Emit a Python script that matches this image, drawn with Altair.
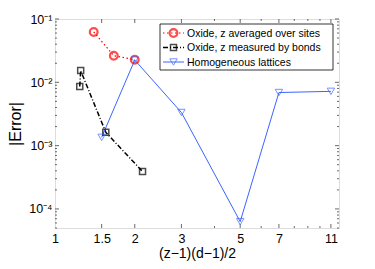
import altair as alt
import pandas as pd

# ---- data ----
red_x = [1.40, 1.667, 2.0]
red_y = [0.0625, 0.0263, 0.0227]

black_x = [1.24, 1.25, 1.555, 2.14]
black_y = [0.0086, 0.0153, 0.00162, 0.00039]

blue_x = [1.5, 2.0, 3.0, 5.0, 7.0, 11.0]
blue_y = [0.00135, 0.0225, 0.00334, 0.000063, 0.0069, 0.0072]

series_names = ["Oxide, z averaged over sites",
                "Oxide, z measured by bonds",
                "Homogeneous lattices"]

x_ticks = [1, 1.5, 2, 3, 5, 7, 11]
x_minor = [4, 6, 8, 9, 10]
y_ticks = [1e-4, 1e-3, 1e-2, 1e-1]
y_minor = [m * 10 ** e for e in (-5, -4, -3, -2) for m in range(2, 10)]
y_minor = [v for v in y_minor if 5e-5 <= v <= 0.1]

W, H = 284, 209
FONT = "Liberation Sans"
RED = "#ff0000"
BLACK = "#000000"
BLUE = "#3c64ff"
AX = "#444444"

xs = alt.Scale(type="log", domain=[1, 11.8], nice=False)
ys = alt.Scale(type="log", domain=[5e-5, 0.1], nice=False)

red_df = pd.DataFrame({"x": red_x, "y": red_y, "o": range(len(red_x))})
black_df = pd.DataFrame({"x": black_x, "y": black_y, "o": range(len(black_x))})
blue_df = pd.DataFrame({"x": blue_x, "y": blue_y, "o": range(len(blue_x))})

ylab = ("datum.value > 0.05 ? '10\u207b\u00b9' : datum.value > 0.005 ? '10\u207b\u00b2' : "
        "datum.value > 0.0005 ? '10\u207b\u00b3' : '10\u207b\u2074'")

# base axes layer (labels + titles only)
axes = alt.Chart(pd.DataFrame({"x": [1.0], "y": [0.01]})).mark_point(opacity=0).encode(
    x=alt.X("x:Q", scale=xs, axis=alt.Axis(
        values=x_ticks, ticks=False, domain=False, grid=False, labelFontSize=12.5,
        labelFont=FONT, labelColor="black", labelPadding=4, labelFlush=False,
        labelExpr="format(datum.value, '')",
        title="(z\u22121)(d\u22121)/2", titleFont=FONT, titleFontSize=14,
        titleFontWeight="normal", titlePadding=2, titleColor="black")),
    y=alt.Y("y:Q", scale=ys, axis=alt.Axis(
        values=y_ticks, ticks=False, domain=False, grid=False, labelFontSize=12.5,
        labelFont=FONT, labelColor="black", labelPadding=3, labelExpr=ylab,
        labelFlush=False,
        title="|Error|", titleFont=FONT, titleFontSize=16, titleFontWeight="normal",
        titlePadding=5, titleColor="black")),
)

def xtick_layer(vals, size):
    d = pd.DataFrame({"x": vals})
    bot = alt.Chart(d).mark_rule(color=AX, strokeWidth=0.8).encode(
        x=alt.X("x:Q", scale=xs), y=alt.value(H), y2=alt.value(H - size))
    top = alt.Chart(d).mark_rule(color=AX, strokeWidth=0.8).encode(
        x=alt.X("x:Q", scale=xs), y=alt.value(0), y2=alt.value(size))
    return [bot, top]

def ytick_layer(vals, size):
    d = pd.DataFrame({"y": vals})
    left = alt.Chart(d).mark_rule(color=AX, strokeWidth=0.8).encode(
        y=alt.Y("y:Q", scale=ys), x=alt.value(0), x2=alt.value(size))
    right = alt.Chart(d).mark_rule(color=AX, strokeWidth=0.8).encode(
        y=alt.Y("y:Q", scale=ys), x=alt.value(W - size), x2=alt.value(W))
    return [left, right]

ticks = (xtick_layer(x_ticks[1:], 4) + xtick_layer(x_minor, 2)
         + ytick_layer(y_ticks, 4) + ytick_layer(y_minor, 2))

def enc(df):
    return dict(x=alt.X("x:Q", scale=xs), y=alt.Y("y:Q", scale=ys), order="o:Q")

red_line = alt.Chart(red_df).mark_line(color=RED, strokeWidth=1.2, strokeDash=[1.5, 2.5]).encode(**enc(red_df))
red_pts = alt.Chart(red_df).mark_point(shape="circle", size=60, filled=False, color=RED, strokeWidth=2.2).encode(
    x=alt.X("x:Q", scale=xs), y=alt.Y("y:Q", scale=ys))

black_line = alt.Chart(black_df).mark_line(color=BLACK, strokeWidth=1.5, strokeDash=[5, 2, 1, 2]).encode(**enc(black_df))
black_pts = alt.Chart(black_df).mark_point(shape="square", size=36, filled=False, color=BLACK, strokeWidth=1.5).encode(
    x=alt.X("x:Q", scale=xs), y=alt.Y("y:Q", scale=ys))

blue_line = alt.Chart(blue_df).mark_line(color=BLUE, strokeWidth=1).encode(**enc(blue_df))
blue_pts = alt.Chart(blue_df).mark_point(shape="triangle-down", size=55, filled=False, color=BLUE, strokeWidth=1).encode(
    x=alt.X("x:Q", scale=xs), y=alt.Y("y:Q", scale=ys))

# legend (manual, MATLAB style)
one = pd.DataFrame({"a": [0]})
lx0, lx1, ly0, ly1 = 105, 278, 5, 51
rows_y = [14, 28.5, 43]
legend = [alt.Chart(one).mark_rect(fill="white", stroke=BLACK, strokeWidth=0.8).encode(
    x=alt.value(lx0), x2=alt.value(lx1), y=alt.value(ly0), y2=alt.value(ly1))]
styles = [
    (RED, [1.5, 2.5], 1.2, "circle", 60, 2.2),
    (BLACK, [5, 2, 1, 2], 1.5, "square", 36, 1.5),
    (BLUE, None, 1.0, "triangle-down", 55, 1.0),
]
for name, yy, (col, dash, sw, shp, sz, msw) in zip(series_names, rows_y, styles):
    kw = dict(color=col, strokeWidth=sw)
    if dash:
        kw["strokeDash"] = dash
    legend.append(alt.Chart(one).mark_rule(**kw).encode(
        x=alt.value(lx0 + 3), x2=alt.value(lx0 + 24), y=alt.value(yy)))
    legend.append(alt.Chart(one).mark_point(shape=shp, size=sz, filled=False, color=col, strokeWidth=msw).encode(
        x=alt.value(lx0 + 13.5), y=alt.value(yy)))
    legend.append(alt.Chart(one).mark_text(align="left", baseline="middle", font=FONT, fontSize=10.5,
                                           color="black").encode(
        x=alt.value(lx0 + 27), y=alt.value(yy + 0.5), text=alt.value(name)))

chart = alt.layer(axes, *ticks, red_line, black_line, blue_line, red_pts, black_pts, blue_pts, *legend).properties(
    width=W, height=H,
    autosize=alt.AutoSizeParams(type="none"),
    padding={"left": 47, "top": 11, "right": 28, "bottom": 33},
).configure_view(stroke=AX, strokeWidth=1).configure(background="white")

chart.save("out.html", embed_options={"renderer": "svg", "actions": False})
